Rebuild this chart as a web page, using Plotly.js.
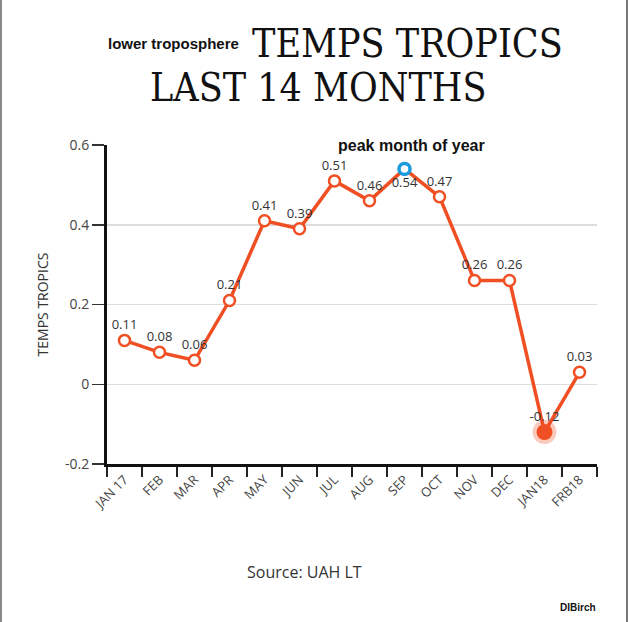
<!DOCTYPE html>
<html><head><meta charset="utf-8">
<script src="https://cdn.plot.ly/plotly-3.0.1.min.js"></script>
<style>
html,body{margin:0;padding:0;background:#fff;}
#wrap{position:relative;width:628px;height:622px;box-sizing:border-box;border-left:2px solid #888;border-right:2px solid #777;}
#chart{position:absolute;left:-2px;top:0;width:628px;height:622px;}
</style>
</head><body>
<div id="wrap"><div id="chart"></div></div>
<script>
const months = ["JAN 17","FEB","MAR","APR","MAY","JUN","JUL","AUG","SEP","OCT","NOV","DEC","JAN18","FRB18"];
const temps = [0.11,0.08,0.06,0.21,0.41,0.39,0.51,0.46,0.54,0.47,0.26,0.26,-0.12,0.03];
const labelPos = ["top center","top center","top center","top center","top center","top center","top center","top center","bottom center","top center","top center","top center","top center","top center"];
const peakIndex = 8;
const lowIndex = 12;

const red = "#f04e23";
const traces = [
  {x: months, y: temps, type: "scatter", mode: "lines+markers+text",
   text: temps.map(v => String(v)), textposition: labelPos,
   textfont: {family: "Open Sans", size: 13, color: "#333"},
   line: {color: red, width: 3.5},
   marker: {size: 11, color: "#fff", line: {color: red, width: 2.5}},
   hoverinfo: "none", cliponaxis: false},
  {x: [months[lowIndex]], y: [temps[lowIndex]], type: "scatter", mode: "markers",
   marker: {size: 24, color: "rgba(240,78,35,0.3)"}, hoverinfo: "none", cliponaxis: false},
  {x: [months[lowIndex]], y: [temps[lowIndex]], type: "scatter", mode: "markers",
   marker: {size: 16, color: red}, hoverinfo: "none", cliponaxis: false},
  {x: [months[peakIndex]], y: [temps[peakIndex]], type: "scatter", mode: "markers",
   marker: {size: 11, color: "#fff", line: {color: "#1a9be0", width: 3.5}}, hoverinfo: "none", cliponaxis: false}
];

const layout = {
  width: 628, height: 622,
  margin: {l: 107, r: 31, t: 145, b: 158},
  paper_bgcolor: "rgba(0,0,0,0)", plot_bgcolor: "#fff",
  showlegend: false,
  font: {family: "Open Sans", color: "#333"},
  xaxis: {type: "category", tickson: "boundaries", ticks: "outside", ticklen: 10, tickwidth: 2, tickcolor: "#222",
          showline: true, linecolor: "#111", linewidth: 3, showgrid: false, tickangle: -45,
          tickfont: {family: "Open Sans", size: 13, color: "#444"}, range: [-0.5, 13.5], fixedrange: true},
  yaxis: {range: [-0.2, 0.6], tickvals: [-0.2, 0, 0.2, 0.4, 0.6], ticktext: ["-0.2","0","0.2","0.4","0.6"],
          ticks: "outside", ticklen: 12, tickwidth: 1.5, tickcolor: "#333",
          showline: true, linecolor: "#111", linewidth: 3, showgrid: true, gridcolor: "#ddd", gridwidth: 1.5,
          zeroline: false, tickfont: {family: "Open Sans", size: 14, color: "#444"},
          title: {text: "TEMPS TROPICS", font: {family: "Open Sans", size: 14, color: "#333"}, standoff: 14}},
  annotations: [
    {xref: "paper", yref: "paper", x: -0.002, y: 1.318, xanchor: "left", yanchor: "middle", showarrow: false,
     text: "<b>lower troposphere</b>", font: {family: "Liberation Sans", size: 15, color: "#111"}},
    {xref: "paper", yref: "paper", x: 0.292, y: 1.318, xanchor: "left", yanchor: "middle", showarrow: false,
     text: "TEMPS TROPICS", font: {family: "DejaVu Serif Condensed", size: 39, color: "#111"}},
    {xref: "paper", yref: "paper", x: 0.084, y: 1.18, xanchor: "left", yanchor: "middle", showarrow: false,
     text: "LAST 14 MONTHS", font: {family: "DejaVu Serif Condensed", size: 39, color: "#111"}},
    {xref: "paper", yref: "paper", x: 0.468, y: 0.997, xanchor: "left", yanchor: "middle", showarrow: false,
     text: "<b>peak month of year</b>", font: {family: "Liberation Sans", size: 16, color: "#111"}},
    {xref: "paper", yref: "paper", x: 0.403, y: -0.339, xanchor: "center", yanchor: "middle", showarrow: false,
     text: "Source: UAH LT", font: {family: "Open Sans", size: 16, color: "#333"}},
    {xref: "paper", yref: "paper", x: 1.002, y: -0.451, xanchor: "right", yanchor: "middle", showarrow: false,
     text: "<b>DIBirch</b>", font: {family: "Liberation Sans", size: 10, color: "#111"}}
  ]
};
Plotly.newPlot("chart", traces, layout, {displayModeBar: false, staticPlot: true});
</script>
</body></html>
